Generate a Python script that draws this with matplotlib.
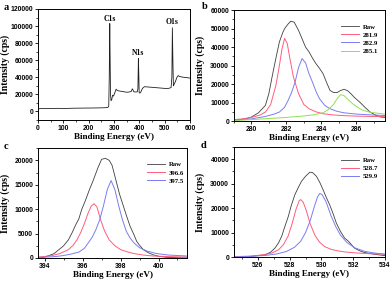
import numpy as np
import matplotlib
matplotlib.use("Agg")
import matplotlib.pyplot as plt
from matplotlib.ticker import MultipleLocator, AutoMinorLocator

# ---- (a) survey spectrum
sv_x = [0, 5, 15, 30, 50, 80, 110, 140, 170, 200, 230, 260, 275, 279, 281, 283, 284.5, 286, 288,
        291, 294, 298, 303, 308, 313, 320, 330, 340, 350, 360, 368, 372, 375, 378, 385, 392, 394,
        396, 397.5, 399, 402, 406, 412, 420, 440, 460, 480, 500, 515, 525, 528, 530, 532, 534,
        537, 542, 548, 553, 558, 565, 575, 590, 600]
sv_y = [2500, 3200, 3400, 3300, 3500, 3600, 3500, 3800, 3900, 4000, 4100, 4300, 4600, 6000, 40000,
        103000, 60000, 20000, 12500, 14000, 19000, 18000, 22000, 26000, 24500, 24000, 23500, 23000,
        22500, 22800, 23500, 26500, 25000, 23000, 22800, 23000, 27000, 62000, 45000, 22000, 21500,
        23000, 27000, 29000, 28500, 28000, 27500, 27000, 27000, 28000, 40000, 98000, 60000, 30000,
        32000, 35000, 40000, 42000, 41000, 40500, 40000, 39500, 39000]
sv_labels = [("C1s", 283, 104000), ("N1s", 396, 64000), ("O1s", 529, 100000)]

# ---- (b) C1s
b_raw_x = [279.0, 279.3, 279.7, 280.0, 280.4, 280.8, 281.0, 281.2, 281.4, 281.6, 281.8, 281.9, 282.1,
           282.25, 282.45, 282.7, 282.9, 283.1, 283.3, 283.5, 283.7, 283.9, 284.1, 284.3, 284.5, 284.7,
           284.9, 285.1, 285.3, 285.5, 285.7, 285.9, 286.2, 286.5, 286.8, 287.1, 287.4, 287.65]
b_raw_y = [300, 800, 1300, 2200, 4500, 8500, 15000, 24800, 34000, 42800, 48000, 50000, 52500, 54000,
           53500, 49000, 44500, 40000, 37400, 34000, 31000, 28500, 25700, 21000, 16600, 15500, 15400,
           16500, 17200, 16500, 14800, 12800, 10300, 7500, 4900, 3300, 2200, 2000]
b_p1_x = [279.0, 279.5, 280.0, 280.5, 280.8, 281.1, 281.4, 281.6, 281.75, 281.9, 282.05, 282.2, 282.4,
          282.7, 283.0, 283.3, 283.7, 284.1, 284.6, 285.2, 286.0, 287.0, 287.65]
b_p1_y = [800, 1200, 2000, 3300, 4900, 9000, 19300, 30000, 39000, 44700, 42000, 34000, 24000, 14800,
          9000, 6700, 5000, 4000, 3400, 3000, 2700, 2500, 2400]
b_p2_x = [279.0, 280.0, 280.8, 281.3, 281.6, 281.9, 282.1, 282.3, 282.5, 282.7, 282.9, 283.1, 283.3,
          283.5, 283.7, 283.9, 284.2, 284.5, 284.9, 285.3, 286.0, 286.6, 287.65]
b_p2_y = [500, 1200, 2500, 3800, 4900, 7500, 11200, 15500, 21100, 29000, 33800, 31500, 25500, 21000,
          16000, 12100, 8500, 6700, 5300, 4500, 3800, 3500, 3000]
b_p3_x = [279.0, 280.0, 280.8, 281.7, 282.7, 283.5, 284.1, 284.4, 284.7, 284.9, 285.1, 285.3, 285.5,
          285.8, 286.1, 286.4, 286.8, 287.2, 287.65]
b_p3_y = [300, 800, 1300, 1800, 2500, 3300, 4500, 6200, 9000, 12000, 14300, 13800, 12000, 9400, 7300,
          5800, 4800, 4300, 3800]

# ---- (c) N1s
c_raw_x = [393.65, 393.9, 394.2, 394.5, 394.75, 395.0, 395.25, 395.45, 395.6, 395.8, 395.95, 396.15,
           396.35, 396.55, 396.8, 397.0, 397.2, 397.4, 397.55, 397.75, 397.95, 398.1, 398.3, 398.5,
           398.7, 398.85, 399.0, 399.2, 399.45, 399.7, 400.0, 400.4, 401.0, 401.5]
c_raw_y = [0, 100, 450, 900, 1700, 2500, 3700, 5200, 6500, 8000, 9900, 11800, 13900, 15800, 18400,
           20200, 20400, 20000, 19000, 16000, 13000, 11200, 8800, 6500, 4800, 3400, 2600, 1700, 1100,
           670, 350, 140, 50, 0]
c_p1_x = [393.65, 394.0, 394.4, 394.8, 395.25, 395.5, 395.7, 395.9, 396.1, 396.3, 396.45, 396.6,
          396.75, 396.95, 397.15, 397.4, 397.7, 398.0, 398.4, 398.7, 399.2, 399.7, 400.5, 401.5]
c_p1_y = [200, 300, 500, 900, 1700, 2600, 3700, 5200, 7100, 9300, 10600, 11100, 10500, 7800, 5600,
          3700, 2500, 1700, 1200, 900, 600, 400, 280, 200]
c_p2_x = [393.65, 394.2, 394.6, 395.0, 395.4, 395.8, 396.1, 396.3, 396.5, 396.7, 396.9, 397.1, 397.3,
          397.5, 397.7, 397.9, 398.1, 398.3, 398.5, 398.7, 399.0, 399.4, 399.9, 400.5, 401.5]
c_p2_y = [100, 200, 300, 500, 800, 1200, 2000, 3100, 4200, 5800, 7800, 10700, 14000, 15850, 14000,
          10700, 7800, 5500, 4100, 3100, 2100, 1400, 900, 600, 400]

# ---- (d) O1s
d_raw_x = [524.5, 525.0, 525.6, 526.0, 526.45, 526.8, 527.08, 527.3, 527.5, 527.7, 527.92, 528.1,
           528.33, 528.55, 528.75, 529.0, 529.27, 529.45, 529.69, 529.9, 530.1, 530.3, 530.52, 530.75,
           530.94, 531.2, 531.46, 531.7, 532.08, 532.4, 532.7, 533.3, 534.0]
d_raw_y = [0, 100, 300, 600, 950, 2000, 3700, 5800, 8500, 12500, 16700, 21000, 25500, 28500, 31000,
           33000, 34700, 34500, 33000, 30500, 27600, 24500, 21400, 17500, 13900, 10500, 7800, 6500,
           3700, 2600, 1900, 1200, 600]
d_p1_x = [524.5, 525.5, 526.3, 526.9, 527.3, 527.6, 527.9, 528.15, 528.4, 528.6, 528.7, 528.85, 529.05,
          529.3, 529.6, 529.9, 530.2, 530.6, 531.0, 531.5, 532.2, 533.0, 534.0]
d_p1_y = [200, 400, 900, 1700, 3000, 5000, 8500, 13500, 19500, 23000, 23500, 22500, 19000, 13500,
          8800, 6000, 4300, 3200, 2600, 2100, 1700, 1400, 1200]
d_p2_x = [524.5, 525.5, 526.5, 527.2, 527.8, 528.3, 528.7, 529.0, 529.3, 529.55, 529.75, 529.9, 530.05,
          530.3, 530.6, 530.9, 531.2, 531.6, 532.1, 532.7, 533.3, 534.0]
d_p2_y = [100, 300, 700, 1300, 2300, 4000, 6500, 10000, 15000, 20500, 24500, 26000, 25500, 22500,
          17000, 12500, 9000, 6000, 3800, 2400, 1700, 1200]

RAW, RED, BLUE, GREEN = "#404040", "#ff5c7c", "#7c7cf2", "#8ee050"
SERIF = "Liberation Serif"
SANS = "Liberation Sans"


def style(ax, xlim, ylim, xstep, ystep, letter, lx, ly):
    ax.set_xlim(*xlim)
    ax.set_ylim(*ylim)
    ax.xaxis.set_major_locator(MultipleLocator(xstep))
    ax.yaxis.set_major_locator(MultipleLocator(ystep))
    ax.xaxis.set_minor_locator(AutoMinorLocator(2))
    ax.yaxis.set_minor_locator(AutoMinorLocator(2))
    ax.tick_params(which="major", direction="out", length=2.0, width=0.6, pad=1.5, labelsize=4.9)
    ax.tick_params(which="minor", direction="out", length=1.2, width=0.5)
    for lab in ax.get_xticklabels() + ax.get_yticklabels():
        lab.set_fontfamily(SANS)
        lab.set_fontweight("bold")
    for s in ax.spines.values():
        s.set_linewidth(0.7)
    ax.set_xlabel("Binding Energy (eV)", fontsize=6.6, fontweight="bold", fontfamily=SERIF)
    ax.set_ylabel("Intensity (cps)", fontsize=7.0, fontweight="bold", fontfamily=SERIF)
    ax.xaxis.set_label_coords(0.5, lx)
    ax.yaxis.set_label_coords(ly, 0.5)
    ax.figure.text(*letter[1:], letter[0], fontsize=7.5, fontweight="bold", fontfamily=SERIF,
                   ha="left", va="center")


def legend(ax, x, y):
    ax.legend(loc="upper left", bbox_to_anchor=(x, y), frameon=False,
              prop={"family": SERIF, "weight": "bold", "size": 4.9},
              handlelength=2.6, handletextpad=0.6, labelspacing=0.35, borderpad=0.2)


fig = plt.figure(figsize=(3.92, 2.81), dpi=100)
fig.patch.set_facecolor("white")

axa = fig.add_axes([0.097, 0.573, 0.388, 0.395])
axa.plot(sv_x, sv_y, color="#202020", lw=0.6)
for t, x, y in sv_labels:
    axa.text(x, y, t, fontsize=5.5, fontweight="bold", fontfamily=SERIF, ha="center", va="bottom")
style(axa, (0, 600), (-10000, 120000), 100, 20000, ("a", 0.008, 0.975), -0.12, -0.185)

axb = fig.add_axes([0.597, 0.569, 0.385, 0.395])
axb.plot(b_raw_x, b_raw_y, color=RAW, lw=0.6, label="Raw")
axb.plot(b_p1_x, b_p1_y, color=RED, lw=0.7, label="281.9")
axb.plot(b_p2_x, b_p2_y, color=BLUE, lw=0.7, label="282.9")
axb.plot(b_p3_x, b_p3_y, color=GREEN, lw=0.7, label="285.1")
style(axb, (279.0, 287.65), (0, 60000), 2, 10000, ("b", 0.515, 0.978), -0.12, -0.19)
legend(axb, 0.68, 0.92)

axc = fig.add_axes([0.097, 0.082, 0.380, 0.391])
axc.plot(c_raw_x, c_raw_y, color=RAW, lw=0.6, label="Raw")
axc.plot(c_p1_x, c_p1_y, color=RED, lw=0.7, label="396.6")
axc.plot(c_p2_x, c_p2_y, color=BLUE, lw=0.7, label="397.5")
style(axc, (393.65, 401.5), (0, 22500), 2, 5000, ("c", 0.008, 0.478), -0.12, -0.185)
legend(axc, 0.70, 0.92)

axd = fig.add_axes([0.597, 0.085, 0.385, 0.392])
axd.plot(d_raw_x, d_raw_y, color=RAW, lw=0.6, label="Raw")
axd.plot(d_p1_x, d_p1_y, color=RED, lw=0.7, label="528.7")
axd.plot(d_p2_x, d_p2_y, color=BLUE, lw=0.7, label="529.9")
style(axd, (524.5, 534.0), (0, 45000), 2, 10000, ("d", 0.513, 0.482), -0.12, -0.19)
legend(axd, 0.68, 0.95)

fig.savefig("out.png", dpi=100)
